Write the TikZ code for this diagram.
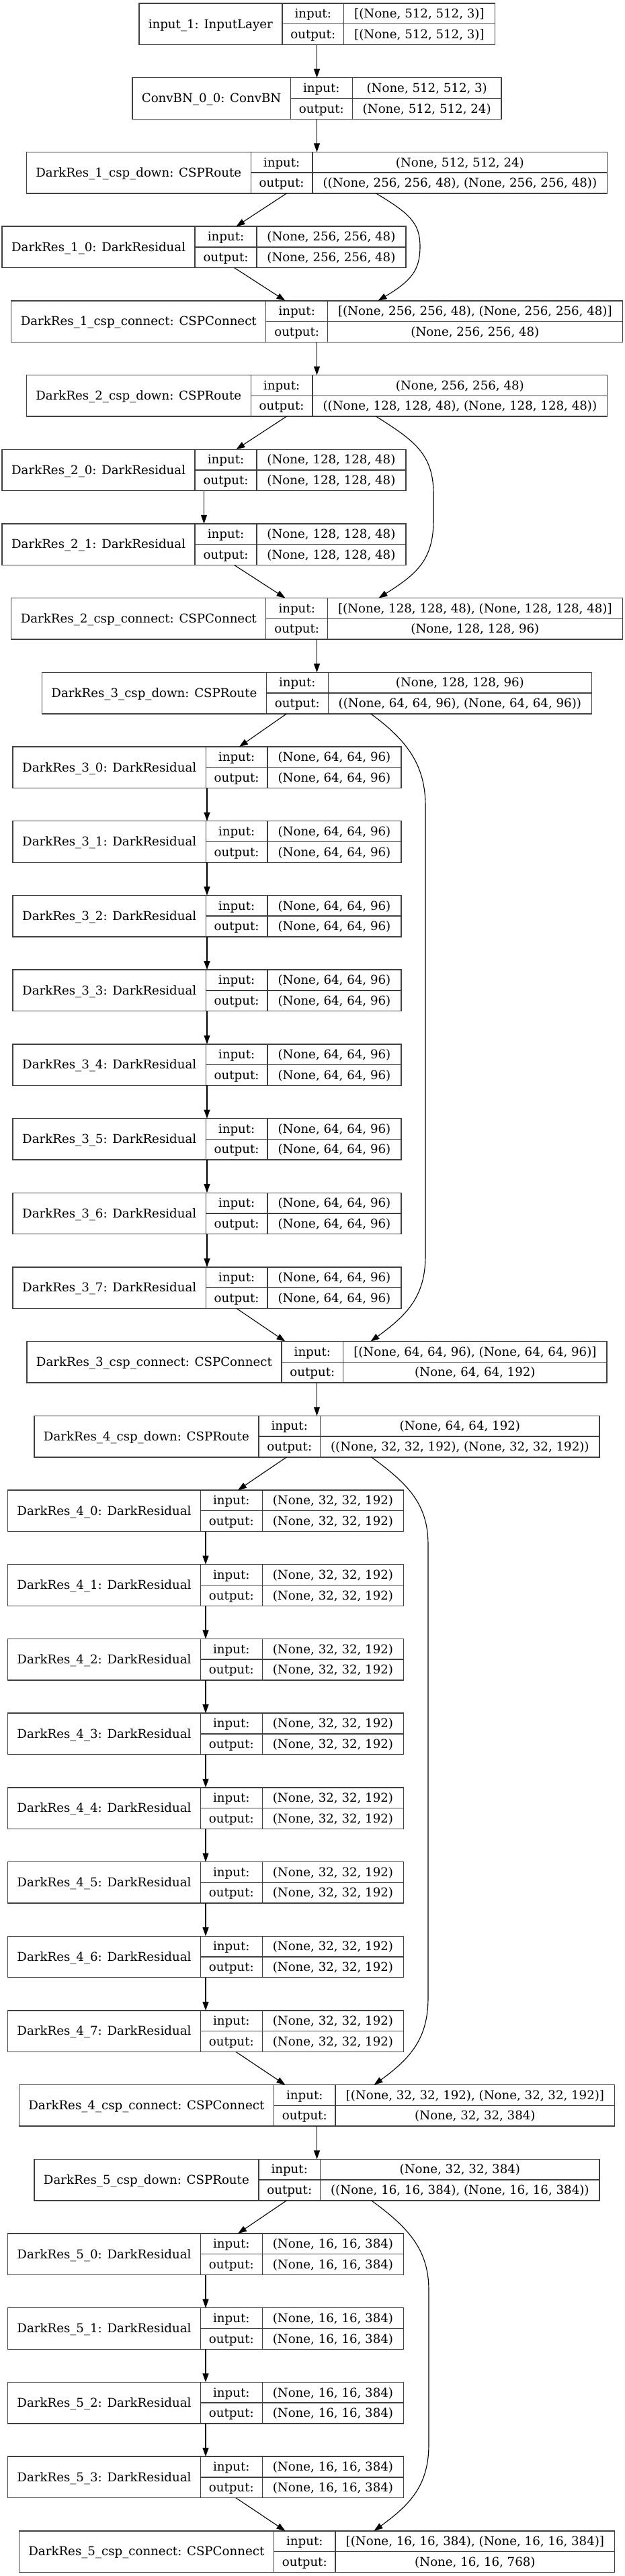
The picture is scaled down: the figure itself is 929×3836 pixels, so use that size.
\documentclass[tikz,border=0pt]{standalone}
\usepackage{fontspec}
\setmainfont{DejaVu Serif}
\usetikzlibrary{arrows.meta, calc}

\newlength\namew
\newlength\valw
\newlength\tmpw
\newlength\labw
\newcommand\recfont{\fontsize{18.2}{21}\selectfont}

\tikzset{
    recframe/.style={draw=black!75, line width=1.4pt, inner sep=0pt, outer sep=0pt, minimum height=61.5pt},
    recline/.style={draw=black!75, line width=1.4pt},
    rectext/.style={font=\recfont, inner sep=0pt, text height=16pt, text depth=3.5pt},
    edge/.style={-{Triangle[length=13pt, width=9pt]}, line width=1.1pt, black}
}

% one layer record: name, centre x, row, title, input shape, output shape
\newcommand\layerrec[6]{%
  \settowidth\namew{\recprim #4}\addtolength\namew{28pt}%
  \settowidth\valw{\recprim #5}%
  \settowidth\tmpw{\recprim #6}%
  \ifdim\tmpw>\valw \setlength\valw{\tmpw}\fi
  \addtolength\valw{31pt}%
  \pgfmathsetmacro\recw{\namew+\labw+\valw}%
  \pgfmathsetmacro\recl{#2-\recw/2}%
  \pgfmathsetmacro\reca{\recl+\namew}%
  \pgfmathsetmacro\recb{\reca+\labw}%
  \pgfmathsetmacro\recr{\recl+\recw}%
  \pgfmathsetmacro\rect{5+(#3)*110.7}%
  \node[recframe, minimum width=\recw pt, anchor=north] (#1) at (#2,\rect) {};
  \draw[recline] (\reca,\rect) -- ++(0,61.5) (\recb,\rect) -- ++(0,61.5)
    ({\reca},{\rect+30.75}) -- ({\recr},{\rect+30.75});
  \node[rectext] (#1-t) at ({(\recl+\reca)/2},{\rect+30.75}) {#4};
  \node[rectext] (#1-il) at ({(\reca+\recb)/2},{\rect+15.4}) {input:};
  \node[rectext] (#1-ol) at ({(\reca+\recb)/2},{\rect+46.1}) {output:};
  \node[rectext] (#1-iv) at ({(\recb+\recr)/2},{\rect+15.4}) {#5};
  \node[rectext] (#1-ov) at ({(\recb+\recr)/2},{\rect+46.1}) {#6};
}

\begin{document}
{\recfont\global\expandafter\let\expandafter\recprim\the\font}
\settowidth\labw{\recprim output:}\addtolength\labw{25pt}
\begin{tikzpicture}[x=1pt, y=-1pt]
\useasboundingbox (0,0) rectangle (929,3836);

% ---------- stem ----------
\layerrec{in1}{471.5}{0}{input\_1: InputLayer}{[(None, 512, 512, 3)]}{[(None, 512, 512, 3)]}
\layerrec{cbn}{471.5}{1}{ConvBN\_0\_0: ConvBN}{(None, 512, 512, 3)}{(None, 512, 512, 24)}
\draw[edge] (in1) -- (cbn);

% ---------- block 1 ----------
\layerrec{d1}{471.5}{2}{DarkRes\_1\_csp\_down: CSPRoute}{(None, 512, 512, 24)}{((None, 256, 256, 48), (None, 256, 256, 48))}
\layerrec{r10}{303.5}{3}{DarkRes\_1\_0: DarkResidual}{(None, 256, 256, 48)}{(None, 256, 256, 48)}
\layerrec{c1}{471.5}{4}{DarkRes\_1\_csp\_connect: CSPConnect}{[(None, 256, 256, 48), (None, 256, 256, 48)]}{(None, 256, 256, 48)}
\draw[edge] (cbn) -- (d1);
\draw[edge] ([xshift=-45pt]d1.south) -- ([xshift=48pt]r10.north);
\draw[edge] ([xshift=45pt]r10.south) -- ([xshift=-47pt]c1.north);
\draw[edge] ([xshift=88pt]d1.south) .. controls +(50,30) and +(0,-35) .. (625,367)
    .. controls +(0,35) and +(50,-30) .. ([xshift=91pt]c1.north);

% ---------- block 2 ----------
\layerrec{d2}{471.5}{5}{DarkRes\_2\_csp\_down: CSPRoute}{(None, 256, 256, 48)}{((None, 128, 128, 48), (None, 128, 128, 48))}
\layerrec{r20}{303.5}{6}{DarkRes\_2\_0: DarkResidual}{(None, 128, 128, 48)}{(None, 128, 128, 48)}
\layerrec{r21}{303.5}{7}{DarkRes\_2\_1: DarkResidual}{(None, 128, 128, 48)}{(None, 128, 128, 48)}
\layerrec{c2}{471.5}{8}{DarkRes\_2\_csp\_connect: CSPConnect}{[(None, 128, 128, 48), (None, 128, 128, 48)]}{(None, 128, 128, 96)}
\draw[edge] (c1) -- (d2);
\draw[edge] ([xshift=-45pt]d2.south) -- ([xshift=48pt]r20.north);
\draw[edge] (r20) -- (r21);
\draw[edge] ([xshift=45pt]r21.south) -- ([xshift=-47pt]c2.north);
\draw[edge] ([xshift=88pt]d2.south) .. controls +(55,35) and +(0,-60) .. (645,735) -- (645,775)
    .. controls +(0,60) and +(55,-35) .. ([xshift=92pt]c2.north);

% ---------- block 3 ----------
\layerrec{d3}{471.5}{9}{DarkRes\_3\_csp\_down: CSPRoute}{(None, 128, 128, 96)}{((None, 64, 64, 96), (None, 64, 64, 96))}
\foreach \i in {0,...,7} {
  \layerrec{r3\i}{308}{10+\i}{DarkRes\_3\_\i: DarkResidual}{(None, 64, 64, 96)}{(None, 64, 64, 96)}
}
\layerrec{c3}{471.5}{18}{DarkRes\_3\_csp\_connect: CSPConnect}{[(None, 64, 64, 96), (None, 64, 64, 96)]}{(None, 64, 64, 192)}
\draw[edge] (c2) -- (d3);
\draw[edge] ([xshift=-45pt]d3.south) -- ([xshift=48pt]r30.north);
\foreach \i [count=\j] in {0,...,6} {
  \draw[edge] (r3\i) -- (r3\j);
}
\draw[edge] ([xshift=44pt]r37.south) -- ([xshift=-47pt]c3.north);
\draw[edge] ([xshift=80pt]d3.south) .. controls +(55,40) and +(0,-60) .. (633,1200) -- (633,1870)
    .. controls +(0,60) and +(55,-40) .. ([xshift=80pt]c3.north);

% ---------- block 4 ----------
\layerrec{d4}{471.5}{19}{DarkRes\_4\_csp\_down: CSPRoute}{(None, 64, 64, 192)}{((None, 32, 32, 192), (None, 32, 32, 192))}
\foreach \i in {0,...,7} {
  \layerrec{r4\i}{306}{20+\i}{DarkRes\_4\_\i: DarkResidual}{(None, 32, 32, 192)}{(None, 32, 32, 192)}
}
\layerrec{c4}{471.5}{28}{DarkRes\_4\_csp\_connect: CSPConnect}{[(None, 32, 32, 192), (None, 32, 32, 192)]}{(None, 32, 32, 384)}
\draw[edge] (c3) -- (d4);
\draw[edge] ([xshift=-45pt]d4.south) -- ([xshift=48pt]r40.north);
\foreach \i [count=\j] in {0,...,6} {
  \draw[edge] (r4\i) -- (r4\j);
}
\draw[edge] ([xshift=45pt]r47.south) -- ([xshift=-47pt]c4.north);
\draw[edge] ([xshift=81pt]d4.south) .. controls +(55,40) and +(0,-60) .. (637,2300) -- (637,2975)
    .. controls +(0,60) and +(55,-40) .. ([xshift=85pt]c4.north);

% ---------- block 5 ----------
\layerrec{d5}{471.5}{29}{DarkRes\_5\_csp\_down: CSPRoute}{(None, 32, 32, 384)}{((None, 16, 16, 384), (None, 16, 16, 384))}
\foreach \i in {0,...,3} {
  \layerrec{r5\i}{306}{30+\i}{DarkRes\_5\_\i: DarkResidual}{(None, 16, 16, 384)}{(None, 16, 16, 384)}
}
\layerrec{c5}{471.5}{34}{DarkRes\_5\_csp\_connect: CSPConnect}{[(None, 16, 16, 384), (None, 16, 16, 384)]}{(None, 16, 16, 768)}
\draw[edge] (c4) -- (d5);
\draw[edge] ([xshift=-45pt]d5.south) -- ([xshift=48pt]r50.north);
\foreach \i [count=\j] in {0,...,2} {
  \draw[edge] (r5\i) -- (r5\j);
}
\draw[edge] ([xshift=45pt]r53.south) -- ([xshift=-47pt]c5.north);
\draw[edge] ([xshift=81pt]d5.south) .. controls +(55,40) and +(0,-60) .. (638,3410) -- (638,3640)
    .. controls +(0,60) and +(55,-40) .. ([xshift=85pt]c5.north);

\end{tikzpicture}
\end{document}
